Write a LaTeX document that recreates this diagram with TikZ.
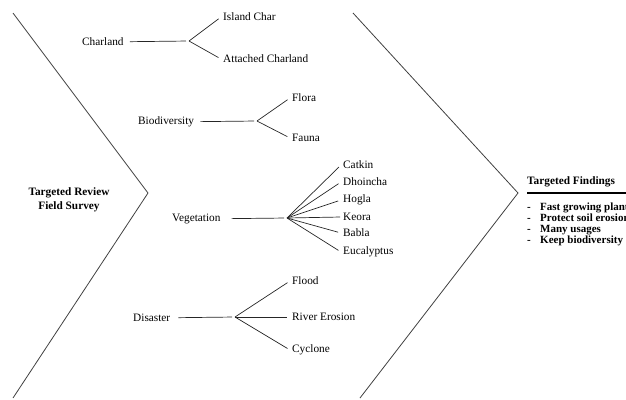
\documentclass[tikz,border=0pt]{standalone}
\usepackage{fontspec}
\setmainfont{Liberation Serif}
\usepackage{tikz}
\usetikzlibrary{calc}
\tikzset{
   branch/.style={draw=black!85, line width=0.7pt},
   spine/.style={draw=black!75, line width=0.8pt},
   underline/.style={draw=black, line width=1.5pt}
}

\begin{document}
\begin{tikzpicture}[x=1pt,y=-1pt,
                    inner sep=2pt,
                    factor/.style={anchor=west,font=\fontsize{11.3}{13}\selectfont},
                    leaf/.style={anchor=west,font=\fontsize{11.3}{13}\selectfont},
                    heading/.style={font=\bfseries\fontsize{11.3}{14}\selectfont}]
\useasboundingbox (0,0) rectangle (626,399);
\clip (0,0) rectangle (626,399);
% the two chevrons
\path[spine] (13,13) -- (148,193) -- (13,398);
\path[spine] (353,13) -- (518,193) -- (360,398);
\node[heading,align=center] (review) at (69,200) {Targeted Review\\Field Survey};
%
\begin{scope}
\node[factor] (charland) at (80,42) {Charland};
\coordinate (cj) at (189,41);
\node[leaf] (island)   at ($ (cj) + (32,-24) $) {Island Char};
\node[leaf] (attached) at ($ (cj) + (32, 18) $) {Attached Charland};
%
\path[branch,shorten >=3pt]
  (charland) edge[shorten <=4pt] (cj)
  (cj) edge (island.west)
  (cj) edge (attached.west)
  ;
\end{scope}
%
\begin{scope}
\node[factor] (biodiv) at (136,122) {Biodiversity};
\coordinate (bj) at (257,121);
\node[leaf] (flora) at ($ (bj) + (33,-23) $) {Flora};
\node[leaf] (fauna) at ($ (bj) + (33, 17) $) {Fauna};
%
\path[branch,shorten >=3pt]
  (biodiv) edge[shorten <=4pt] (bj)
  (bj) edge (flora.west)
  (bj) edge (fauna.west)
  ;
\end{scope}
%
\begin{scope}
\node[factor] (veget) at (170,219) {Vegetation};
\coordinate (vj) at (287,218);
\node[leaf] (catkin)   at ($ (vj) + (54,-53) $) {Catkin};
\node[leaf] (dhoincha) at ($ (vj) + (54,-36) $) {Dhoincha};
\node[leaf] (hogla)    at ($ (vj) + (54,-18) $) {Hogla};
\node[leaf] (keora)    at ($ (vj) + (54, -1) $) {Keora};
\node[leaf] (babla)    at ($ (vj) + (54, 15) $) {Babla};
\node[leaf] (eucal)    at ($ (vj) + (54, 34) $) {Eucalyptus};
%
\path[branch,shorten >=3pt]
  (veget) edge[shorten <=9pt] (vj)
  (vj) edge (catkin.west)
  (vj) edge (dhoincha.west)
  (vj) edge (hogla.west)
  (vj) edge[shorten >=1pt] (keora.west)
  (vj) edge (babla.west)
  (vj) edge (eucal.west)
  ;
\end{scope}
%
\begin{scope}
\node[factor] (disaster) at (131,318) {Disaster};
\coordinate (dj) at (235,317);
\node[leaf] (flood)   at ($ (dj) + (55,-36) $) {Flood};
\node[leaf] (erosion) at ($ (dj) + (55,  0) $) {River Erosion};
\node[leaf] (cyclone) at ($ (dj) + (55, 33) $) {Cyclone};
%
\path[branch,shorten >=3pt]
  (disaster) edge[shorten <=6pt] (dj)
  (dj) edge (flood.west)
  (dj) edge (erosion.west)
  (dj) edge (cyclone.west)
  ;
\end{scope}
%
\node[heading,anchor=west,inner sep=0pt] (findings) at (527,182) {Targeted Findings};
\coordinate (rulestart) at (527,193);
\coordinate (ruleend) at (630,193);
\path[underline] (rulestart) -- (ruleend);
\node[anchor=north west,align=left,inner sep=0pt,
      font=\bfseries\fontsize{11}{10.8}\selectfont] (items) at (527,203)
  {\makebox[13pt][l]{-}Fast growing plant\\
   \makebox[13pt][l]{-}Protect soil erosion\\
   \makebox[13pt][l]{-}Many usages\\
   \makebox[13pt][l]{-}Keep biodiversity};
\end{tikzpicture}
\end{document}
